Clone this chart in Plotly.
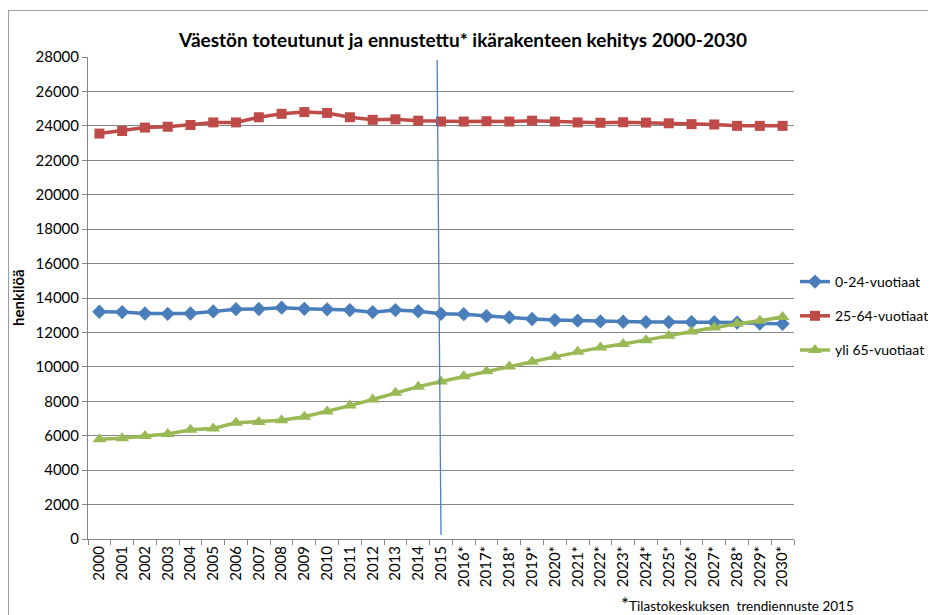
import plotly.graph_objects as go

categories = ["2000", "2001", "2002", "2003", "2004", "2005", "2006", "2007", "2008", "2009",
              "2010", "2011", "2012", "2013", "2014", "2015", "2016*", "2017*", "2018*", "2019*",
              "2020*", "2021*", "2022*", "2023*", "2024*", "2025*", "2026*", "2027*", "2028*",
              "2029*", "2030*"]

age_0_24 = [13200, 13180, 13100, 13080, 13100, 13220, 13350, 13360, 13440, 13370,
            13340, 13300, 13180, 13300, 13230, 13080, 13060, 12950, 12870, 12780,
            12720, 12680, 12640, 12620, 12600, 12600, 12600, 12590, 12570, 12520, 12500]

age_25_64 = [23550, 23700, 23900, 23950, 24050, 24200, 24200, 24500, 24700, 24800,
             24750, 24500, 24350, 24380, 24300, 24250, 24250, 24270, 24250, 24300,
             24250, 24200, 24180, 24210, 24190, 24150, 24100, 24080, 24000, 24000, 24000]

age_65 = [5800, 5850, 5980, 6100, 6350, 6420, 6750, 6800, 6900, 7100,
          7400, 7750, 8100, 8500, 8850, 9150, 9450, 9750, 10020, 10300,
          10580, 10880, 11130, 11330, 11550, 11800, 12050, 12280, 12500, 12680, 12900]

series_names = ["0-24-vuotiaat", "25-64-vuotiaat", "yli 65-vuotiaat"]
colors = ["#4A7EBB", "#BE4B48", "#98B954"]
symbols = ["diamond", "square", "triangle-up"]
sizes = [11, 10, 12]

FONT = "Lato, 'Liberation Sans', sans-serif"

# page has an 8px body margin; figure is sized/offset to compensate
OFF = 8
L, R, T, B = 88, 794, 57, 539  # plot area in screenshot pixels
PW, PH = R - L, B - T


def px(xs):
    return (xs - L) / PW


def py(ys):
    return (B - ys) / PH


fig = go.Figure()
for i, vals in enumerate([age_0_24, age_25_64, age_65]):
    fig.add_trace(go.Scatter(
        x=categories, y=vals, name=series_names[i], mode="lines+markers",
        line=dict(color=colors[i], width=3.5),
        marker=dict(symbol=symbols[i], size=sizes[i], color=colors[i]),
        legendgroup=series_names[i],
    ))

# forecast divider line near 2015
fig.add_shape(type="line", xref="x", yref="y", x0=14.83, y0=27830, x1=15.0, y1=230,
              line=dict(color="#4F81BD", width=1.3))

# outer chart border (cropped at right and bottom)
fig.add_shape(type="rect", xref="paper", yref="paper",
              x0=px(8.5), x1=px(980), y0=py(660), y1=py(10.5),
              line=dict(color="#A0A0A0", width=1.2), layer="below")

fig.add_annotation(text="<b>henkilöä</b>", xref="paper", yref="paper",
                   x=px(18), y=py(298), textangle=-90, showarrow=False,
                   xanchor="center", yanchor="middle",
                   font=dict(family=FONT, size=15, color="#000000"))

fig.add_annotation(text="<span style='font-size:19px'>*</span>Tilastokeskuksen  trendiennuste 2015",
                   xref="paper", yref="paper", x=px(619), y=py(603),
                   xanchor="left", yanchor="middle", showarrow=False,
                   font=dict(family=FONT, size=13.5, color="#000000"))

fig.update_layout(
    width=936 - OFF, height=615 - OFF,
    margin=dict(l=L - OFF, r=936 - R, t=T - OFF, b=615 - B, autoexpand=False),
    paper_bgcolor="white", plot_bgcolor="white",
    title=dict(text="<b>Väestön toteutunut ja ennustettu* ikärakenteen kehitys 2000-2030</b>",
               x=(463 - OFF) / (936 - OFF), xanchor="center",
               y=1 - (40 - OFF) / (615 - OFF), yanchor="middle",
               font=dict(family=FONT, size=19, color="#000000")),
    font=dict(family=FONT, size=15, color="#000000"),
    showlegend=True,
    legend=dict(x=px(795), xanchor="left", y=py(266), yanchor="top",
                font=dict(family=FONT, size=14, color="#000000"),
                tracegroupgap=13, traceorder="grouped", bgcolor="rgba(0,0,0,0)"),
    xaxis=dict(type="category", tickangle=-90, showgrid=False, showline=True,
               linecolor="#868686", linewidth=1, ticks="outside", tickson="boundaries",
               ticklen=5, tickcolor="#868686", tickfont=dict(family=FONT, size=15),
               range=[-0.5, 30.5], fixedrange=True, automargin=False),
    yaxis=dict(range=[0, 28000], dtick=2000, tickformat="d", showgrid=True,
               gridcolor="#868686", gridwidth=1,
               showline=True, linecolor="#868686", linewidth=1, ticks="outside", ticklen=5,
               tickcolor="#868686", tickfont=dict(family=FONT, size=15), zeroline=False,
               automargin=False),
)

fig.write_html("out.html")
